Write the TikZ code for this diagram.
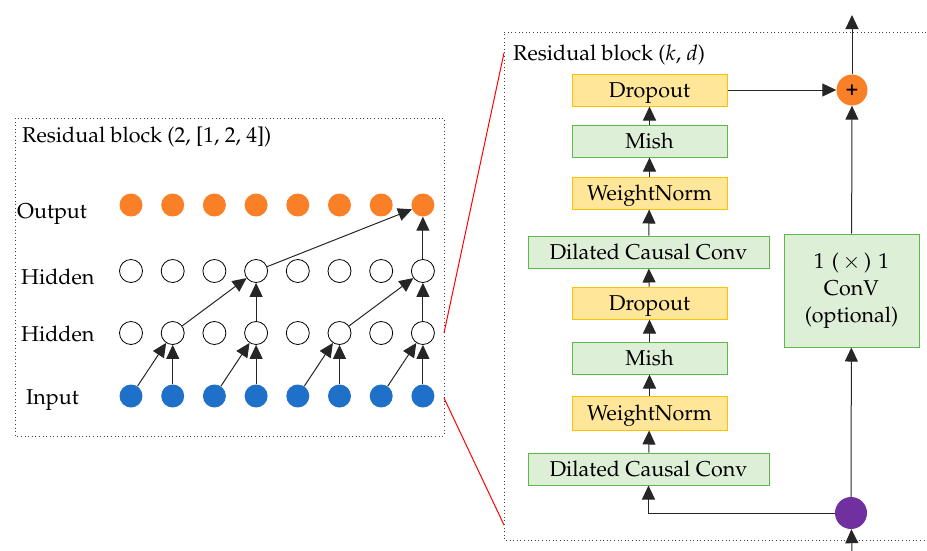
\documentclass[tikz,border=0pt]{standalone}
\usepackage[T1]{fontenc}
\usepackage{mathpazo}
\usetikzlibrary{arrows.meta}
\definecolor{orng}{RGB}{250,128,40}
\definecolor{blu}{RGB}{31,112,200}
\definecolor{purp}{RGB}{112,48,160}
\definecolor{yfill}{RGB}{255,230,153}
\definecolor{ydraw}{RGB}{255,192,0}
\definecolor{gfill}{RGB}{222,239,216}
\definecolor{gdraw}{RGB}{92,184,74}
\tikzset{
  arr/.style={line width=1pt, draw=black!85, -{Triangle[length=14pt,width=13pt]}},
  dot/.style={circle, minimum size=23pt, inner sep=0pt},
  outc/.style={dot, fill=orng},
  hidc/.style={dot, draw=black, fill=white, line width=0.8pt},
  inc/.style={dot, fill=blu},
  ybox/.style={draw=ydraw, fill=yfill, line width=1pt, minimum width=155pt, minimum height=32pt, inner sep=0pt, text height=15pt, text depth=0pt},
  gbox/.style={draw=gdraw, fill=gfill, line width=1pt, minimum width=155pt, minimum height=32pt, inner sep=0pt, text height=15pt, text depth=0pt},
  frame/.style={draw=black!75, line width=1pt, dash pattern=on 1pt off 2.6pt},
  lbl/.style={anchor=base west, inner sep=0pt},
}
\begin{document}
\begin{tikzpicture}[x=1pt,y=-1pt, font=\fontsize{21.5}{25}\selectfont]
\useasboundingbox (0,0) rectangle (927,550);
% ---------- left block ----------
\draw[frame] (15,118) rectangle (444,436);
\node[lbl] (ttl) at (22,142) {Residual block (2, [1, 2, 4])};
\node[lbl] (lo) at (17,218) {Output};
\node[lbl] (lh2) at (21,284) {Hidden};
\node[lbl] (lh1) at (21,341) {Hidden};
\node[lbl] (li) at (26,404) {Input};
\foreach \i in {0,...,7} {
  \node[outc] (o\i) at ({131+41.7*\i},205) {};
  \node[hidc] (ha\i) at ({131+41.7*\i},271) {};
  \node[hidc] (hb\i) at ({131+41.7*\i},333) {};
  \node[inc] (in\i) at ({131+41.7*\i},396) {};
}
\foreach \i/\j in {1/0,3/2,5/4,7/6} {
  \draw[arr] (in\i) -- (hb\i);
  \draw[arr] (in\j) -- (hb\i);
}
\draw[arr] (hb1) -- (ha3);
\draw[arr] (hb3) -- (ha3);
\draw[arr] (hb5) -- (ha7);
\draw[arr] (hb7) -- (ha7);
\draw[arr] (ha3) -- (o7);
\draw[arr] (ha7) -- (o7);
% ---------- zoom lines ----------
\coordinate (za) at (444,333);
\coordinate (zb) at (504,53);
\coordinate (zc) at (444,398);
\coordinate (zd) at (504,525);
\draw[red, line width=1pt] (za) -- (zb);
\draw[red, line width=1pt] (zc) -- (zd);
% ---------- right block ----------
\draw[frame] (930,32) -- (504,32) -- (504,540) -- (930,540);
\node[lbl] (ttr) at (513,60) {Residual block ($k$, $d$)};
\node[ybox] (d1) at (649.5,90) {Dropout};
\node[gbox] (m1) at (649.5,141) {Mish};
\node[ybox] (w1) at (649.5,193) {WeightNorm};
\node[gbox, minimum width=241pt] (c1) at (648.5,252) {Dilated Causal Conv};
\node[ybox] (d2) at (649.5,303) {Dropout};
\node[gbox] (m2) at (649.5,358) {Mish};
\node[ybox, minimum height=34pt] (w2) at (649.5,413) {WeightNorm};
\node[gbox, minimum width=241pt] (c2) at (648.5,469) {Dilated Causal Conv};
\node[draw=gdraw, fill=gfill, line width=1pt, inner sep=0pt, minimum width=135pt, minimum height=113pt, align=center, font=\fontsize{21.5}{27}\selectfont] (cv) at (851.5,290.5) {1\,\,(\,$\times$\,)\,\,1\\ConV\\(optional)};
\node[circle, fill=orng, minimum size=31pt, inner sep=0pt, font=\bfseries\fontsize{21}{21}\selectfont] (plus) at (852,90) {+};
\node[circle, fill=purp, minimum size=32pt, inner sep=0pt] (pu) at (851,513) {};
\coordinate (top) at (852,15);
\coordinate (bot) at (852,552);
\draw[arr] (c2) -- (w2);
\draw[arr] (w2) -- (m2);
\draw[arr] (m2) -- (d2);
\draw[arr] (d2) -- (c1);
\draw[arr] (c1) -- (w1);
\draw[arr] (w1) -- (m1);
\draw[arr] (m1) -- (d1);
\draw[arr] (d1) -- (plus);
\draw[arr] (plus) -- (top);
\draw[arr] (bot) -- (pu);
\draw[arr] (pu) -- (cv);
\draw[arr] (cv) -- (plus);
\draw[arr] (pu.west) -| (c2.south);
\end{tikzpicture}
\end{document}
